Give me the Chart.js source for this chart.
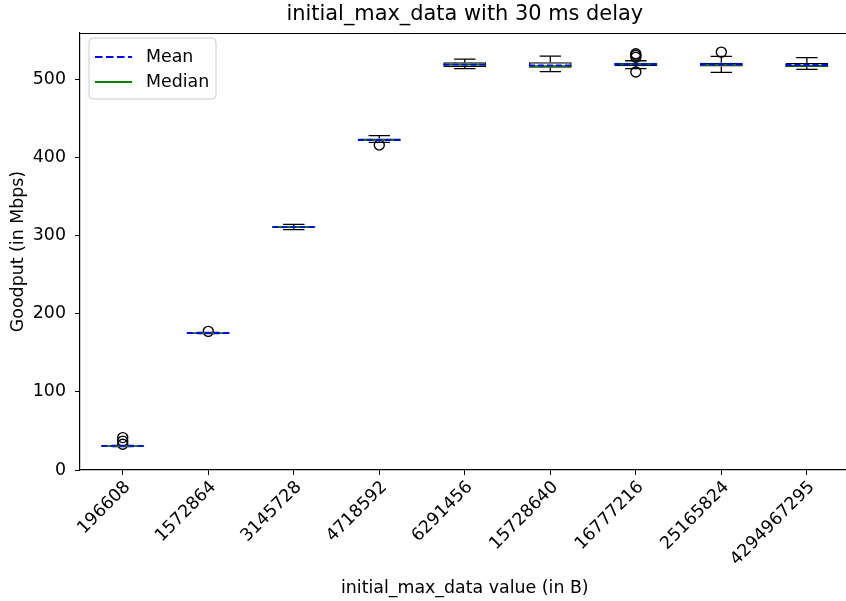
<!DOCTYPE html>
<html>
<head>
<meta charset="utf-8">
<script src="https://cdn.jsdelivr.net/npm/chart.js@4/dist/chart.umd.min.js"></script>
<style>
  html, body { margin: 0; padding: 0; background: #ffffff; overflow: hidden; }
  #wrap { width: 856px; height: 601px; }
</style>
</head>
<body>
<div id="wrap"><canvas id="c" width="856" height="601"></canvas></div>
<script>
// ---- data ----
const categories = ['196608', '1572864', '3145728', '4718592', '6291456', '15728640', '16777216', '25165824', '4294967295'];
const whiskerLow  = [29.8, 174.6, 307.8, 419.5, 514.0, 510.0, 514.0, 509.0, 513.0];
const quartile1   = [30.2, 175.0, 310.0, 421.5, 516.0, 515.0, 517.0, 516.5, 516.0];
const medians     = [30.6, 175.3, 311.0, 422.5, 519.0, 517.0, 519.5, 519.0, 517.5];
const means       = [31.0, 175.4, 311.0, 422.5, 519.0, 518.0, 519.5, 519.5, 518.5];
const quartile3   = [31.0, 175.8, 312.2, 424.5, 522.0, 522.0, 521.5, 521.5, 521.0];
const whiskerHigh = [31.6, 176.2, 314.5, 428.0, 526.0, 530.0, 524.0, 529.5, 528.0];
const outliers    = [[33.0, 37.0, 41.5], [177.5], [], [416.0], [], [], [509.5, 528.5, 531.0, 533.0], [535.0], []];
const yTicks = [0, 100, 200, 300, 400, 500];
const yMin = 0, yMax = 559.5;
const titleText = 'initial_max_data with 30 ms delay';
const xTitle = 'initial_max_data value (in B)';
const yTitle = 'Goodput (in Mbps)';
const legendLabels = ['Mean', 'Median'];

const FONT = '"DejaVu Sans", sans-serif';
const FS = 17.4;
const TITLE_FS = 20.9;
const MEAN_COLOR = '#0000ff';
const MEDIAN_COLOR = '#008000';

const boxExtras = {
  id: 'boxExtras',
  afterDatasetsDraw(chart) {
    const ctx = chart.ctx;
    const xs = chart.scales.x, ys = chart.scales.y;
    const step = xs.getPixelForValue(1) - xs.getPixelForValue(0);
    const boxHalf = step * 0.25;
    const capHalf = step * 0.125;
    ctx.save();
    categories.forEach((c, i) => {
      const x = xs.getPixelForValue(i);
      ctx.strokeStyle = '#000';
      ctx.lineWidth = 1.3;
      ctx.setLineDash([]);
      ctx.beginPath();
      ctx.moveTo(x, ys.getPixelForValue(quartile3[i]));
      ctx.lineTo(x, ys.getPixelForValue(whiskerHigh[i]));
      ctx.moveTo(x, ys.getPixelForValue(quartile1[i]));
      ctx.lineTo(x, ys.getPixelForValue(whiskerLow[i]));
      ctx.moveTo(x - capHalf, ys.getPixelForValue(whiskerHigh[i]));
      ctx.lineTo(x + capHalf, ys.getPixelForValue(whiskerHigh[i]));
      ctx.moveTo(x - capHalf, ys.getPixelForValue(whiskerLow[i]));
      ctx.lineTo(x + capHalf, ys.getPixelForValue(whiskerLow[i]));
      ctx.stroke();
      ctx.strokeStyle = MEDIAN_COLOR;
      ctx.lineWidth = 1.8;
      ctx.beginPath();
      ctx.moveTo(x - boxHalf, ys.getPixelForValue(medians[i]));
      ctx.lineTo(x + boxHalf, ys.getPixelForValue(medians[i]));
      ctx.stroke();
      ctx.strokeStyle = MEAN_COLOR;
      ctx.lineWidth = 1.8;
      ctx.setLineDash([6, 3]);
      ctx.beginPath();
      ctx.moveTo(x - boxHalf, ys.getPixelForValue(means[i]));
      ctx.lineTo(x + boxHalf, ys.getPixelForValue(means[i]));
      ctx.stroke();
      ctx.setLineDash([]);
    });
    const a = chart.chartArea;
    ctx.strokeStyle = '#000';
    ctx.lineWidth = 1.2;
    ctx.beginPath();
    ctx.moveTo(a.left, a.top + 0.5);
    ctx.lineTo(a.right, a.top + 0.5);
    ctx.moveTo(a.right - 0.5, a.top);
    ctx.lineTo(a.right - 0.5, a.bottom);
    ctx.stroke();
    ctx.restore();
  },
  afterDraw(chart) {
    const ctx = chart.ctx;
    const a = chart.chartArea;
    ctx.save();
    // title centred over the plot area
    ctx.fillStyle = '#000';
    ctx.font = TITLE_FS + 'px ' + FONT;
    ctx.textAlign = 'center';
    ctx.textBaseline = 'middle';
    ctx.fillText(titleText, (a.left + a.right) / 2, 15);
    // legend
    const lx = a.left + 9, ly = a.top + 5, lw = 127, lh = 61, r = 4;
    ctx.beginPath();
    ctx.moveTo(lx + r, ly);
    ctx.lineTo(lx + lw - r, ly);
    ctx.arcTo(lx + lw, ly, lx + lw, ly + r, r);
    ctx.lineTo(lx + lw, ly + lh - r);
    ctx.arcTo(lx + lw, ly + lh, lx + lw - r, ly + lh, r);
    ctx.lineTo(lx + r, ly + lh);
    ctx.arcTo(lx, ly + lh, lx, ly + lh - r, r);
    ctx.lineTo(lx, ly + r);
    ctx.arcTo(lx, ly, lx + r, ly, r);
    ctx.closePath();
    ctx.fillStyle = 'rgba(255,255,255,0.8)';
    ctx.fill();
    ctx.strokeStyle = '#cccccc';
    ctx.lineWidth = 1;
    ctx.stroke();
    const rows = [ly + 19, ly + 44];
    ctx.lineWidth = 2;
    ctx.strokeStyle = MEAN_COLOR;
    ctx.setLineDash([7.5, 3.5]);
    ctx.beginPath();
    ctx.moveTo(lx + 6, rows[0]);
    ctx.lineTo(lx + 43, rows[0]);
    ctx.stroke();
    ctx.setLineDash([]);
    ctx.strokeStyle = MEDIAN_COLOR;
    ctx.beginPath();
    ctx.moveTo(lx + 6, rows[1]);
    ctx.lineTo(lx + 43, rows[1]);
    ctx.stroke();
    ctx.fillStyle = '#000';
    ctx.font = FS + 'px ' + FONT;
    ctx.textBaseline = 'middle';
    ctx.textAlign = 'left';
    ctx.fillText(legendLabels[0], lx + 57, rows[0]);
    ctx.fillText(legendLabels[1], lx + 57, rows[1]);
    ctx.restore();
  }
};

const outlierPoints = [];
outliers.forEach((arr, i) => arr.forEach(v => outlierPoints.push({ x: categories[i], y: v })));

new Chart(document.getElementById('c'), {
  data: {
    labels: categories,
    datasets: [
      {
        type: 'bar',
        data: categories.map((c, i) => [quartile1[i], quartile3[i]]),
        backgroundColor: 'rgba(0,0,0,0)',
        borderColor: '#000',
        borderWidth: 1.3,
        borderSkipped: false,
        barPercentage: 0.5,
        categoryPercentage: 1.0
      },
      {
        type: 'line',
        data: outlierPoints,
        showLine: false,
        pointStyle: 'circle',
        pointRadius: 5,
        pointBorderWidth: 1.4,
        pointBorderColor: '#000',
        pointBackgroundColor: 'rgba(0,0,0,0)'
      }
    ]
  },
  options: {
    responsive: false,
    animation: false,
    devicePixelRatio: 1,
    layout: { padding: { left: 0, right: 0, top: 33, bottom: 0 } },
    plugins: {
      legend: { display: false },
      tooltip: { enabled: false },
      title: { display: false }
    },
    scales: {
      x: {
        type: 'category',
        offset: true,
        grid: { display: true, drawOnChartArea: false, drawTicks: true, tickLength: 5, color: '#000', offset: false },
        border: { display: true, color: '#000', width: 1.2 },
        ticks: {
          color: '#000', font: { family: FONT, size: FS },
          minRotation: 45, maxRotation: 45, autoSkip: false, padding: 2, labelOffset: 5
        },
        title: {
          display: true, text: xTitle, color: '#000',
          font: { family: FONT, size: FS }, padding: { top: 0, bottom: 2 }
        },
        afterFit(scale) { scale.height = 131; }
      },
      y: {
        type: 'linear',
        min: yMin, max: yMax,
        grid: { display: true, drawOnChartArea: false, drawTicks: true, tickLength: 5, color: '#000' },
        border: { display: true, color: '#000', width: 1.2 },
        ticks: { color: '#000', font: { family: FONT, size: FS }, padding: 9, includeBounds: false },
        afterBuildTicks(scale) { scale.ticks = yTicks.map(v => ({ value: v })); },
        title: {
          display: true, text: yTitle, color: '#000',
          font: { family: FONT, size: FS }, padding: { top: 8, bottom: 0 }
        },
        afterFit(scale) { scale.width = 80; }
      }
    }
  },
  plugins: [boxExtras]
});
</script>
</body>
</html>
